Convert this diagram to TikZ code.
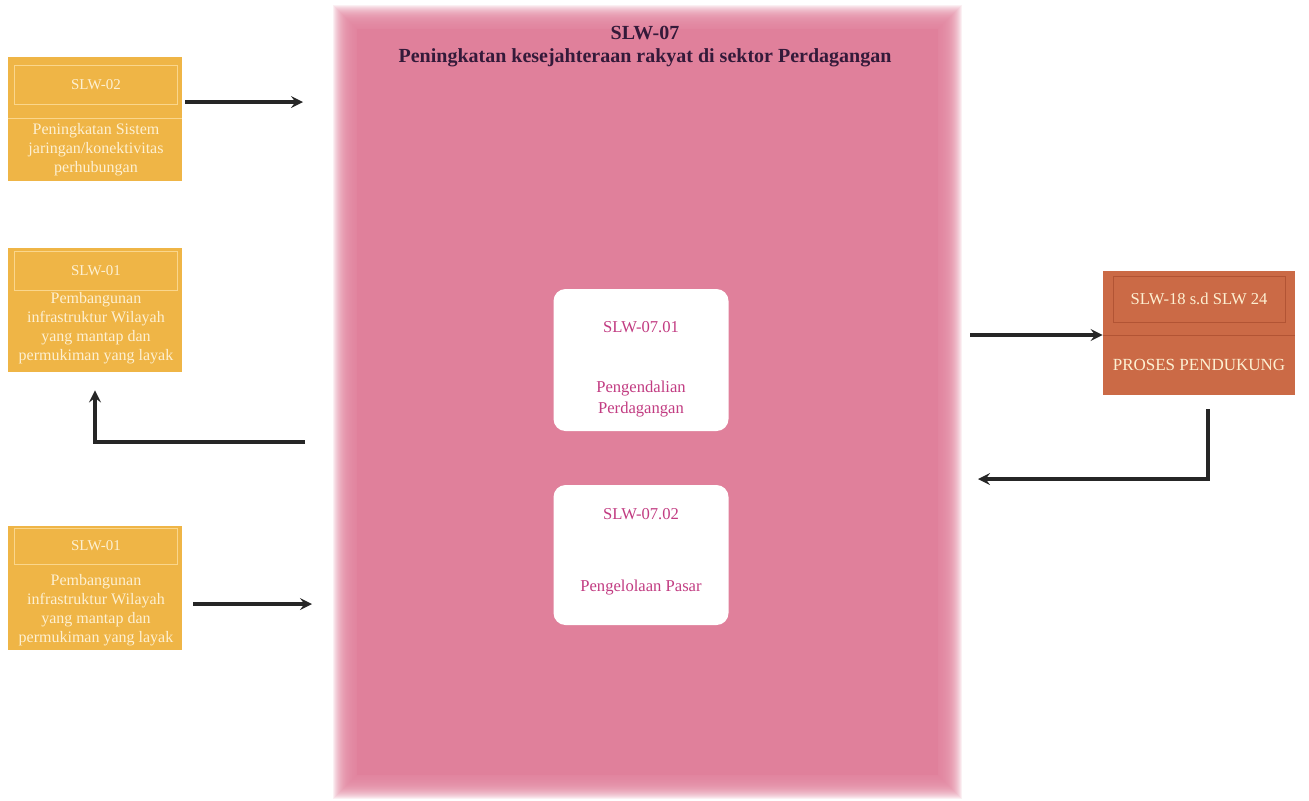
\documentclass[tikz,border=0pt]{standalone}
\usepackage{fontspec}
\setmainfont{Liberation Serif}

\definecolor{panelpink}{RGB}{224,128,155}
\definecolor{boxorange}{RGB}{239,181,70}
\definecolor{boxbrown}{RGB}{203,106,70}
\definecolor{linecream}{RGB}{250,214,140}
\definecolor{linebrown}{RGB}{178,84,52}
\definecolor{txtcream}{RGB}{253,240,210}
\definecolor{txtmagenta}{RGB}{194,60,130}
\definecolor{titledark}{RGB}{52,26,58}

\tikzset{
    srcbox/.style={fill=boxorange, minimum width=87pt, minimum height=62pt, inner sep=0pt},
    srchead/.style={draw=linecream, line width=0.4pt, minimum width=81.5pt, minimum height=19.5pt,
        inner sep=0pt, text=txtcream, font=\fontsize{7.5}{9}\selectfont},
    srctext/.style={text=txtcream, align=center, inner sep=0pt, font=\fontsize{8}{9.5}\selectfont},
    subbox/.style={fill=white, rounded corners=6pt, minimum width=87.5pt, minimum height=71pt, inner sep=0pt},
    subtext/.style={text=txtmagenta, align=center, inner sep=0pt, font=\fontsize{8.3}{10.5}\selectfont},
    flow/.style={->, line width=1.6pt, black!85},
}

\begin{document}
\begin{tikzpicture}[x=0.5pt, y=-0.5pt, >=stealth]
\useasboundingbox (0,0) rectangle (1309,800);

% pink panel with soft edge
\begin{scope}
    \foreach \i in {0,...,23}
        \fill[panelpink, opacity=0.12] ({333+\i},{5+\i}) rectangle ({962-\i},{799-\i});
    \fill[panelpink] (357,29) rectangle (938,775);
\end{scope}

\begin{scope}
    \node[text=titledark, align=center, font=\bfseries\fontsize{10}{11.5}\selectfont] (title) at (645,47)
        {SLW-07\\Peningkatan kesejahteraan rakyat di sektor Perdagangan};
\end{scope}

% left side
\begin{scope}
    \node[srcbox] (s02) at (95,119) {};
    \node[srchead] (s02h) at (96,85) {SLW-02};
    \draw[linecream, line width=0.4pt] ([yshift=0.5pt]s02.west) -- ([yshift=0.5pt]s02.east);
    \node[srctext] (s02t) at (96,150) {Peningkatan Sistem\\jaringan/konektivitas\\perhubungan};

    \node[srcbox] (s01a) at (95,310) {};
    \node[srchead] (s01ah) at (96,271) {SLW-01};
    \node[srctext] (s01at) at (96,328) {Pembangunan\\infrastruktur Wilayah\\yang mantap dan\\permukiman yang layak};

    \node[srcbox] (s01b) at (95,588) {};
    \node[srchead, minimum height=18pt] (s01bh) at (96,546) {SLW-01};
    \node[srctext] (s01bt) at (96,610) {Pembangunan\\infrastruktur Wilayah\\yang mantap dan\\permukiman yang layak};
\end{scope}

% sub processes
\begin{scope}
    \node[subbox] (sub1) at (641,360) {};
    \node[subtext] (sub1a) at (641,327) {SLW-07.01};
    \node[subtext] (sub1b) at (641,399) {Pengendalian\\Perdagangan};

    \node[subbox, minimum height=70pt] (sub2) at (641,555) {};
    \node[subtext] (sub2a) at (641,514) {SLW-07.02};
    \node[subtext] (sub2b) at (641,588) {Pengelolaan Pasar};
\end{scope}

% right side
\begin{scope}
    \node[fill=boxbrown, minimum width=96pt, minimum height=62pt, inner sep=0pt] (pp) at (1199,333) {};
    \node[draw=linebrown, line width=0.4pt, minimum width=86pt, minimum height=23pt, inner sep=0pt,
        text=txtcream, font=\fontsize{8.3}{10}\selectfont] (pph) at (1199,299) {SLW-18 s.d SLW 24};
    \draw[linebrown, line width=0.4pt] ([yshift=-1pt]pp.west) -- ([yshift=-1pt]pp.east);
    \node[text=txtcream, font=\fontsize{8.5}{10}\selectfont] (ppt) at (1199,365) {PROSES PENDUKUNG};
\end{scope}

% connectors
\coordinate (in1) at (303,102);
\coordinate (out1) at (305,442);
\coordinate (in3) at (312,604);
\coordinate (fromPanel) at (970,335);
\coordinate (back) at (978,479);

\begin{scope}[ ]
    \draw [flow, shorten <=1.5pt] (s02.east |- in1) -- (in1);
    \draw [flow, shorten >=9pt] (out1) -| (s01a.south);
    \draw [flow, shorten <=5.5pt] (s01b.east |- in3) -- (in3);
    \draw [flow] (fromPanel) -- (pp.west |- fromPanel);
    \draw [flow, shorten <=7pt] ([xshift=4.5pt]pp.south) |- (back);
\end{scope}
\end{tikzpicture}
\end{document}
